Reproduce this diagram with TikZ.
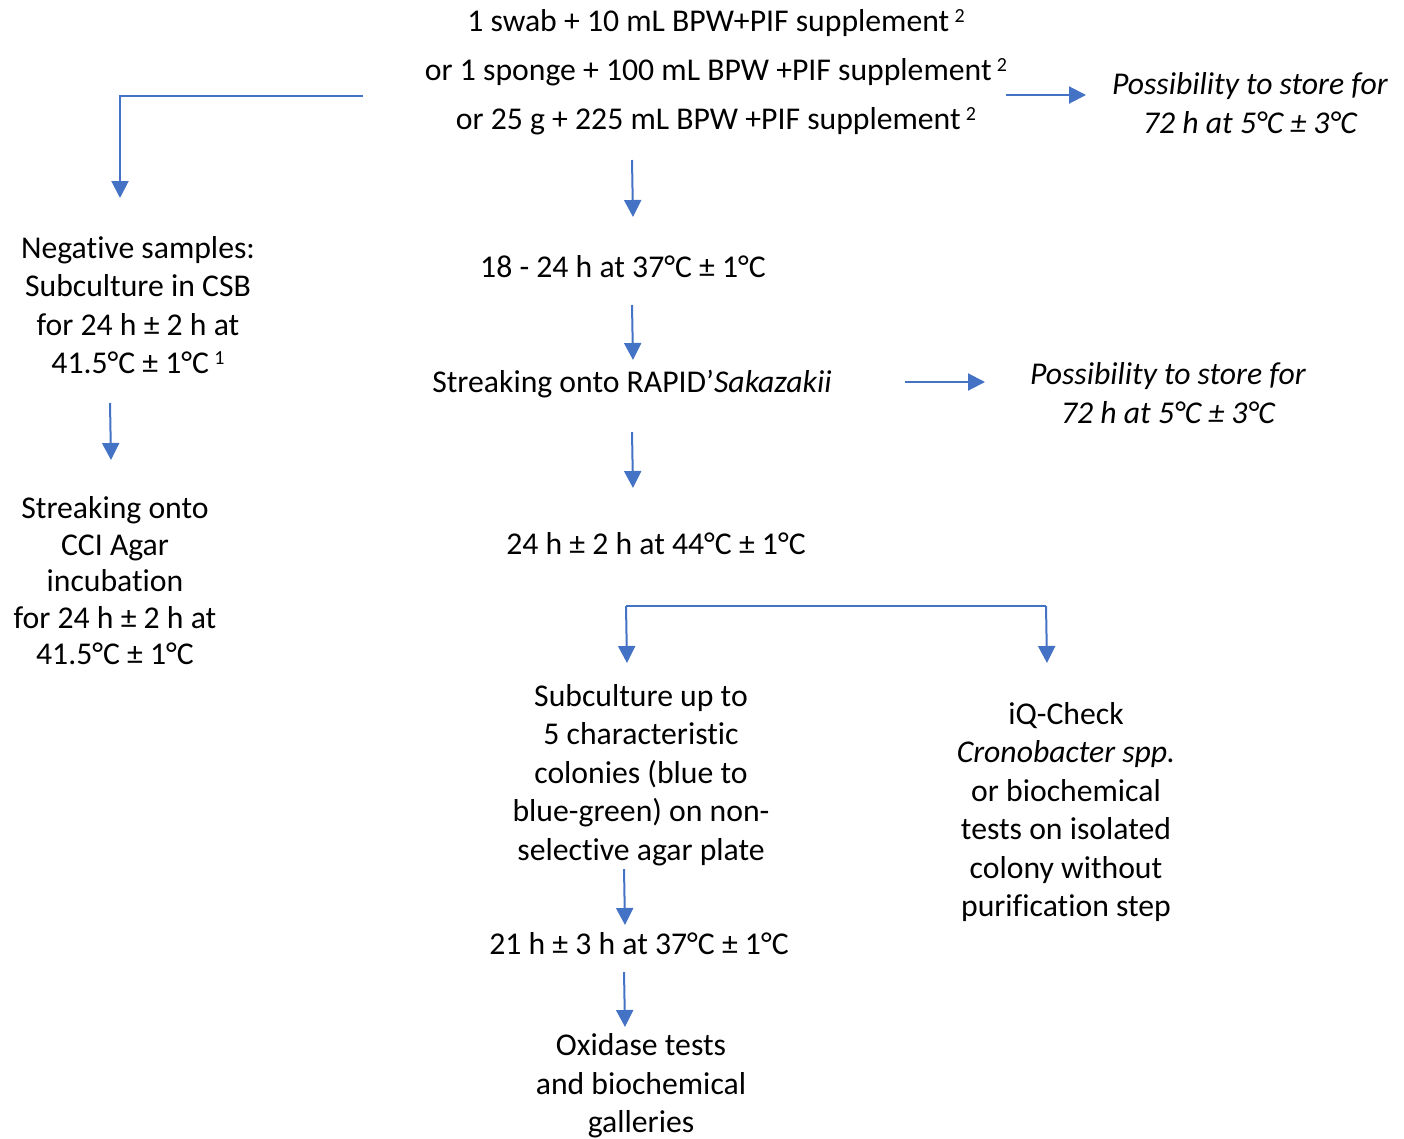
\documentclass[tikz,border=0pt]{standalone}
\usepackage{fontspec}
\setmainfont{Carlito}[RawFeature={-liga;-clig;-calt;-dlig}]
\usetikzlibrary{arrows.meta}
\definecolor{arrowblue}{RGB}{68,114,196}
\newcommand{\supr}[1]{\,{\fontsize{20}{20}\selectfont\raisebox{9pt}{#1}}}
\begin{document}
\begin{tikzpicture}[x=1pt,y=-1pt,
  txt/.style={inner sep=0pt,align=center,font=\fontsize{31.7}{38.5}\selectfont},
  conn/.style={draw=arrowblue,line width=2pt,-{Triangle[length=17pt,width=17pt]}},
  plainline/.style={draw=arrowblue,line width=2pt}]
\useasboundingbox (0,0) rectangle (1404,1138);
% nodes
\node[txt,font=\fontsize{31.7}{49}\selectfont] (top) at (716,72) {1 swab + 10 mL BPW+PIF supplement\supr{2}\\
 or 1 sponge + 100 mL BPW +PIF supplement\supr{2}\\
 or 25 g + 225 mL BPW +PIF supplement\supr{2}};
\node[txt,font=\fontsize{31.7}{38.5}\selectfont\itshape] (store1) at (1250,103) {Possibility to store for\\72 h at 5°C ± 3°C};
\node[txt] (neg) at (138,305) {Negative samples:\\Subculture in CSB\\for 24 h ± 2 h at\\41.5°C ± 1°C\supr{1}};
\node[txt] (t18) at (623,267) {18 - 24 h at 37°C ± 1°C};
\node[txt] (rapid) at (632,384) {Streaking onto RAPID’\textit{Sakazakii}};
\node[txt,font=\fontsize{31.7}{38.5}\selectfont\itshape] (store2) at (1168,393) {Possibility to store for\\72 h at 5°C ± 3°C};
\node[txt] (t24) at (656,544) {24 h ± 2 h at 44°C ± 1°C};
\node[txt] (sub) at (641,775) {Subculture up to\\5 characteristic\\colonies (blue to\\blue-green) on non-\\selective agar plate};
\node[txt] (t21) at (639,944) {21 h ± 3 h at 37°C ± 1°C};
\node[txt] (oxi) at (641,1086) {Oxidase tests\\and biochemical\\galleries};
\node[txt] (iq) at (1066,812) {iQ-Check\\\textit{Cronobacter spp.}\\or biochemical\\tests on isolated\\colony without\\purification step};
\node[txt,font=\fontsize{31.7}{36.5}\selectfont] (cci) at (115,581) {Streaking onto\\CCI Agar\\incubation\\for 24 h ± 2 h at\\41.5°C ± 1°C};
% connector end points
\coordinate (topL) at (363,96);
\coordinate (negT) at (120,198);
\coordinate (topR) at (1006,95);
\coordinate (store1L) at (1086,95);
\coordinate (topB) at (632,160);
\coordinate (t18T) at (633,217);
\coordinate (t18B) at (632,305);
\coordinate (rapidT) at (633,360);
\coordinate (rapidR) at (905,382);
\coordinate (store2L) at (985,382);
\coordinate (rapidB) at (632,432);
\coordinate (t24T) at (633,488);
\coordinate (splitL) at (626,606);
\coordinate (splitR) at (1046,606);
\coordinate (subT) at (627,663);
\coordinate (iqT) at (1047,663);
\coordinate (subB) at (624,869);
\coordinate (t21T) at (625,925);
\coordinate (t21B) at (624,972);
\coordinate (oxiT) at (625,1027);
\coordinate (negB) at (110,403);
\coordinate (cciT) at (111,460);
% connectors
\draw[conn] (topL) -| (negT);
\draw[conn] (topR) -- (store1L);
\draw[conn] (topB) -- (t18T);
\draw[conn] (t18B) -- (rapidT);
\draw[conn] (rapidR) -- (store2L);
\draw[conn] (rapidB) -- (t24T);
\draw[plainline] (splitL) -- (splitR);
\draw[conn] (splitL) -- (subT);
\draw[conn] (splitR) -- (iqT);
\draw[conn] (subB) -- (t21T);
\draw[conn] (t21B) -- (oxiT);
\draw[conn] (negB) -- (cciT);
\end{tikzpicture}
\end{document}
